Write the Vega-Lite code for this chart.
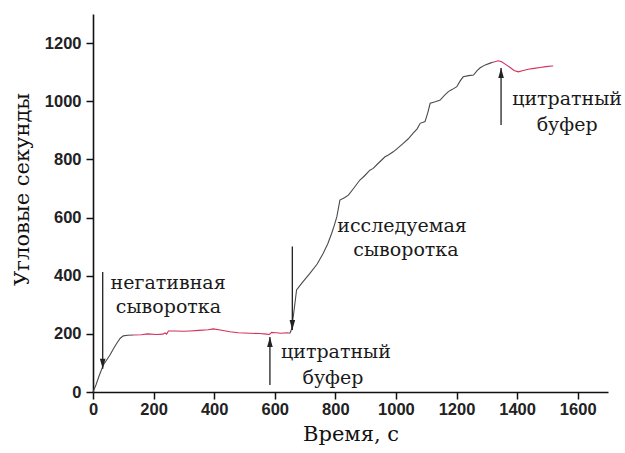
{
  "$schema": "https://vega.github.io/schema/vega-lite/v6.json",
  "width": 515,
  "height": 378,
  "autosize": "none",
  "padding": {"left": 93, "top": 14, "right": 17, "bottom": 61},
  "background": "white",
  "config": {
    "view": {"stroke": null},
    "axis": {
      "grid": false,
      "domainColor": "#111",
      "domainWidth": 1.6,
      "tickColor": "#111",
      "tickWidth": 1.5,
      "labelFont": "Liberation Sans",
      "labelFontSize": 16.5,
      "labelFontWeight": "bold",
      "labelColor": "#222",
      "titleFont": "DejaVu Serif",
      "titleFontSize": 21,
      "titleFontWeight": "normal",
      "titleColor": "#111"
    }
  },
  "datasets": {
    "curve": [
      {"t": 0, "v": 0, "seg": "a"}, {"t": 10, "v": 25, "seg": "a"}, {"t": 20, "v": 55, "seg": "a"}, {"t": 34, "v": 93, "seg": "a"}, {"t": 45, "v": 110, "seg": "a"}, {"t": 56, "v": 127, "seg": "a"}, {"t": 67, "v": 148, "seg": "a"}, {"t": 78, "v": 167, "seg": "a"}, {"t": 90, "v": 185, "seg": "a"}, {"t": 100, "v": 193, "seg": "a"}, {"t": 115, "v": 195, "seg": "a"}, {"t": 133, "v": 196, "seg": "a"},
      {"t": 133, "v": 196, "seg": "b"}, {"t": 160, "v": 197, "seg": "b"}, {"t": 180, "v": 200, "seg": "b"}, {"t": 210, "v": 198, "seg": "b"}, {"t": 230, "v": 199, "seg": "b"}, {"t": 238, "v": 203, "seg": "b"}, {"t": 243, "v": 199, "seg": "b"}, {"t": 249, "v": 210, "seg": "b"}, {"t": 270, "v": 210, "seg": "b"}, {"t": 300, "v": 209, "seg": "b"}, {"t": 320, "v": 210, "seg": "b"}, {"t": 350, "v": 212, "seg": "b"}, {"t": 380, "v": 214, "seg": "b"}, {"t": 397, "v": 217, "seg": "b"}, {"t": 420, "v": 213, "seg": "b"}, {"t": 452, "v": 207, "seg": "b"}, {"t": 480, "v": 204, "seg": "b"}, {"t": 518, "v": 202, "seg": "b"}, {"t": 550, "v": 201, "seg": "b"}, {"t": 573, "v": 199, "seg": "b"}, {"t": 582, "v": 198, "seg": "b"}, {"t": 590, "v": 205, "seg": "b"}, {"t": 600, "v": 204, "seg": "b"}, {"t": 606, "v": 204, "seg": "b"}, {"t": 620, "v": 202, "seg": "b"}, {"t": 640, "v": 204, "seg": "b"}, {"t": 650, "v": 202, "seg": "b"},
      {"t": 650, "v": 202, "seg": "c"}, {"t": 655, "v": 215, "seg": "c"}, {"t": 661, "v": 259, "seg": "c"}, {"t": 666, "v": 300, "seg": "c"}, {"t": 672, "v": 351, "seg": "c"}, {"t": 690, "v": 375, "seg": "c"}, {"t": 716, "v": 408, "seg": "c"}, {"t": 740, "v": 440, "seg": "c"}, {"t": 760, "v": 477, "seg": "c"}, {"t": 775, "v": 510, "seg": "c"}, {"t": 788, "v": 546, "seg": "c"}, {"t": 797, "v": 575, "seg": "c"}, {"t": 805, "v": 603, "seg": "c"}, {"t": 815, "v": 660, "seg": "c"}, {"t": 830, "v": 668, "seg": "c"}, {"t": 843, "v": 677, "seg": "c"}, {"t": 860, "v": 700, "seg": "c"}, {"t": 881, "v": 729, "seg": "c"}, {"t": 895, "v": 742, "seg": "c"}, {"t": 914, "v": 763, "seg": "c"}, {"t": 925, "v": 769, "seg": "c"}, {"t": 940, "v": 785, "seg": "c"}, {"t": 964, "v": 809, "seg": "c"}, {"t": 975, "v": 815, "seg": "c"}, {"t": 991, "v": 826, "seg": "c"}, {"t": 1005, "v": 838, "seg": "c"}, {"t": 1024, "v": 855, "seg": "c"}, {"t": 1040, "v": 870, "seg": "c"}, {"t": 1057, "v": 890, "seg": "c"}, {"t": 1070, "v": 905, "seg": "c"}, {"t": 1080, "v": 924, "seg": "c"}, {"t": 1096, "v": 930, "seg": "c"}, {"t": 1105, "v": 960, "seg": "c"}, {"t": 1113, "v": 993, "seg": "c"}, {"t": 1130, "v": 998, "seg": "c"}, {"t": 1146, "v": 1004, "seg": "c"}, {"t": 1160, "v": 1020, "seg": "c"}, {"t": 1173, "v": 1033, "seg": "c"}, {"t": 1185, "v": 1040, "seg": "c"}, {"t": 1201, "v": 1050, "seg": "c"}, {"t": 1212, "v": 1070, "seg": "c"}, {"t": 1222, "v": 1084, "seg": "c"}, {"t": 1240, "v": 1088, "seg": "c"}, {"t": 1256, "v": 1090, "seg": "c"}, {"t": 1268, "v": 1105, "seg": "c"}, {"t": 1278, "v": 1115, "seg": "c"}, {"t": 1295, "v": 1125, "seg": "c"}, {"t": 1311, "v": 1131, "seg": "c"}, {"t": 1320, "v": 1134, "seg": "c"},
      {"t": 1320, "v": 1134, "seg": "d"}, {"t": 1338, "v": 1139, "seg": "d"}, {"t": 1349, "v": 1136, "seg": "d"}, {"t": 1363, "v": 1126, "seg": "d"}, {"t": 1377, "v": 1116, "seg": "d"}, {"t": 1390, "v": 1106, "seg": "d"}, {"t": 1404, "v": 1101, "seg": "d"}, {"t": 1420, "v": 1106, "seg": "d"}, {"t": 1437, "v": 1110, "seg": "d"}, {"t": 1456, "v": 1113, "seg": "d"}, {"t": 1476, "v": 1116, "seg": "d"}, {"t": 1495, "v": 1119, "seg": "d"}, {"t": 1514, "v": 1121, "seg": "d"}, {"t": 1519, "v": 1121, "seg": "d"}
    ],
    "arrows": [
      {"x": 32, "from": 413, "tip": 80, "dir": "down"},
      {"x": 584, "from": 24, "tip": 189, "dir": "up"},
      {"x": 658, "from": 500, "tip": 213, "dir": "down"},
      {"x": 1347, "from": 918, "tip": 1114, "dir": "up"}
    ],
    "labels": [
      {"x": 248, "y": 375, "text": "негативная"},
      {"x": 249, "y": 292, "text": "сыворотка"},
      {"x": 802, "y": 138, "text": "цитратный"},
      {"x": 792, "y": 48, "text": "буфер"},
      {"x": 1020, "y": 571, "text": "исследуемая"},
      {"x": 1033, "y": 488, "text": "сыворотка"},
      {"x": 1565, "y": 1008, "text": "цитратный"},
      {"x": 1565, "y": 918, "text": "буфер"}
    ]
  },
  "layer": [
    {
      "data": {"name": "curve"},
      "mark": {"type": "line", "strokeWidth": 1.1, "clip": false},
      "encoding": {
        "x": {
          "field": "t", "type": "quantitative",
          "scale": {"domain": [0, 1700], "nice": false, "zero": false},
          "axis": {
            "title": "Время, с",
            "values": [0, 100, 200, 300, 400, 500, 600, 700, 800, 900, 1000, 1100, 1200, 1300, 1400, 1500, 1600, 1700],
            "labelExpr": "datum.value % 200 === 0 && datum.value < 1700 ? datum.value : ''",
            "tickSize": {"condition": {"test": "datum.value % 200 === 0", "value": 7}, "value": 4},
            "labelPadding": 2,
            "titlePadding": 6,
            "labelFlush": false
          }
        },
        "y": {
          "field": "v", "type": "quantitative",
          "scale": {"domain": [0, 1300], "nice": false},
          "axis": {
            "title": "Угловые секунды",
            "values": [0, 100, 200, 300, 400, 500, 600, 700, 800, 900, 1000, 1100, 1200, 1300],
            "labelExpr": "datum.value % 200 === 0 ? datum.value : ''",
            "tickSize": {"condition": {"test": "datum.value % 200 === 0", "value": 7}, "value": 4},
            "labelPadding": 5,
            "titleX": -65,
            "titleY": 175,
            "titleBaseline": "alphabetic",
            "labelFlush": false
          }
        },
        "color": {
          "field": "seg", "type": "nominal",
          "scale": {"domain": ["a", "b", "c", "d"], "range": ["#4a4a4a", "#d42f5c", "#4a4a4a", "#d42f5c"]},
          "legend": null
        },
        "order": {"field": "t", "type": "quantitative"}
      }
    },
    {
      "data": {"name": "arrows"},
      "mark": {"type": "rule", "color": "#222", "strokeWidth": 1.3},
      "encoding": {
        "x": {"field": "x", "type": "quantitative"},
        "y": {"field": "from", "type": "quantitative"},
        "y2": {"field": "tip"}
      }
    },
    {
      "data": {"name": "arrows"},
      "mark": {"type": "point", "filled": true, "color": "#222", "opacity": 1, "size": 400},
      "encoding": {
        "x": {"field": "x", "type": "quantitative"},
        "y": {"field": "tip", "type": "quantitative"},
        "shape": {
          "field": "dir", "type": "nominal",
          "scale": {"domain": ["down", "up"], "range": ["M0,0L-0.28,-1L0.28,-1Z", "M0,0L-0.28,1L0.28,1Z"]},
          "legend": null
        }
      }
    },
    {
      "data": {"name": "labels"},
      "mark": {"type": "text", "font": "DejaVu Serif", "fontSize": 19, "color": "#1a1a1a", "align": "center", "baseline": "middle", "clip": false},
      "encoding": {
        "x": {"field": "x", "type": "quantitative"},
        "y": {"field": "y", "type": "quantitative"},
        "text": {"field": "text", "type": "nominal"}
      }
    }
  ]
}
